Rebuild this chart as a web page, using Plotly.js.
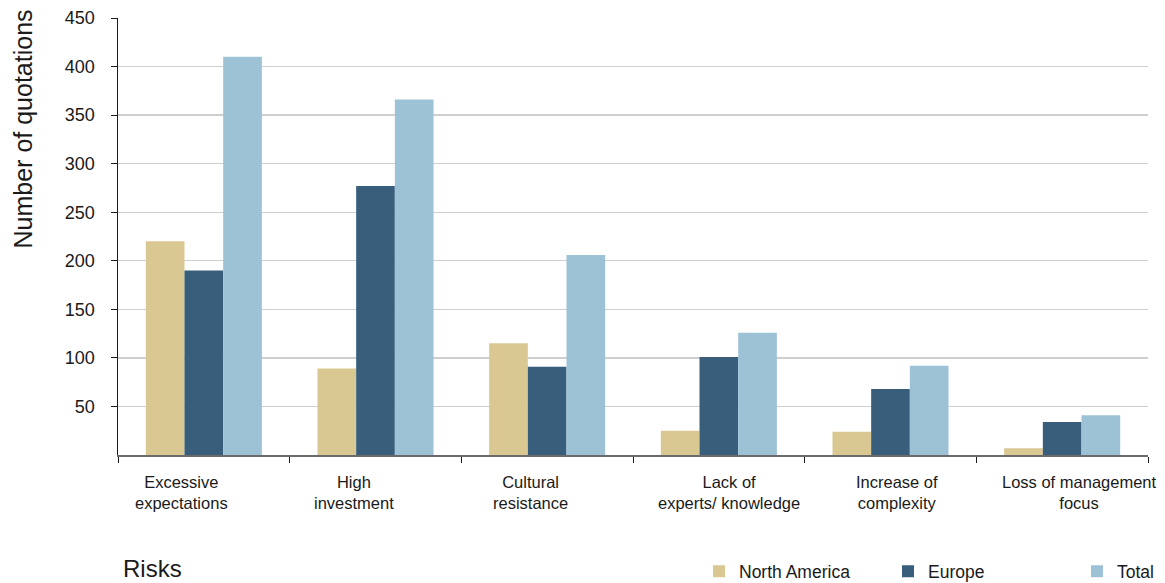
<!DOCTYPE html>
<html>
<head>
<meta charset="utf-8">
<script src="https://cdn.plot.ly/plotly-3.0.1.min.js"></script>
<style>
  html, body { margin: 0; padding: 0; background: #ffffff; }
  #chart { width: 1165px; height: 583px; }
</style>
</head>
<body>
<div id="chart"></div>
<script>
// Risk categories (two-line labels)
const categories = [
  "Excessive<br>expectations",
  "High<br>investment",
  "Cultural<br>resistance",
  "Lack of<br>experts/ knowledge",
  "Increase of<br>complexity",
  "Loss of management<br>focus"
];

// Number of quotations per region
const northAmerica = [220, 89, 115, 25, 24, 7];
const europe       = [190, 277, 91, 101, 68, 34];
const total        = [410, 366, 206, 126, 92, 41];

const yTicks = [50, 100, 150, 200, 250, 300, 350, 400, 450];

// horizontal nudge (px) of each category caption under the axis
const captionNudge = [-22, -22, -17, 10, 6, 17];

const FONT = "Liberation Sans, Arial, sans-serif";

const traces = [
  { name: "North America", y: northAmerica, color: "#dac893" },
  { name: "Europe",        y: europe,       color: "#395e7c" },
  { name: "Total",         y: total,        color: "#9dc2d6" }
].map(s => ({
  type: "bar",
  name: s.name,
  x: categories,
  y: s.y,
  marker: { color: s.color, line: { width: 0 } },
  hoverinfo: "skip"
}));

// category captions placed under each group
const captions = categories.map((c, i) => ({
  text: c,
  xref: "x", yref: "paper",
  x: c, y: 0,
  xanchor: "center", yanchor: "top",
  yshift: -16,
  xshift: captionNudge[i],
  showarrow: false,
  align: "center",
  font: { family: FONT, size: 16.5, color: "#1a1a1a" }
}));

const layout = {
  width: 1165,
  height: 583,
  margin: { l: 118, r: 17, t: 18, b: 128, pad: 0, autoexpand: false },
  paper_bgcolor: "#ffffff",
  plot_bgcolor: "#ffffff",
  font: { family: FONT, color: "#1a1a1a" },
  barmode: "group",
  bargap: 0.324,
  bargroupgap: 0,
  showlegend: true,
  legend: {
    orientation: "h",
    xref: "container",
    yref: "container",
    x: 0.6,
    y: 0.02,
    xanchor: "left",
    yanchor: "middle",
    entrywidth: 144,
    entrywidthmode: "pixels",
    font: { family: FONT, size: 17.5, color: "#1a1a1a" },
    bgcolor: "rgba(0,0,0,0)",
    traceorder: "normal"
  },
  xaxis: {
    type: "category",
    range: [-0.5, categories.length - 0.5],
    autorange: false,
    tickson: "boundaries",
    ticks: "outside",
    ticklen: 6,
    tickwidth: 1,
    tickcolor: "#1a1a1a",
    showline: true,
    linecolor: "#6b6b6b",
    linewidth: 2,
    showgrid: false,
    zeroline: false,
    showticklabels: false,
    automargin: false
  },
  yaxis: {
    range: [0, 450],
    autorange: false,
    tickvals: yTicks,
    ticktext: yTicks.map(String),
    ticks: "outside",
    ticklen: 6,
    tickwidth: 1,
    tickcolor: "#1a1a1a",
    showline: true,
    linecolor: "#1a1a1a",
    linewidth: 1.5,
    showgrid: true,
    gridcolor: "#cfcfcf",
    gridwidth: 1.3,
    zeroline: false,
    ticklabelstandoff: 12,
    tickfont: { family: FONT, size: 18, color: "#1a1a1a" },
    automargin: false
  },
  annotations: captions.concat([
    {
      text: "Number of quotations",
      textangle: -90,
      xref: "paper", yref: "paper",
      x: -0.0922, y: 0.745,
      xanchor: "center", yanchor: "middle",
      showarrow: false,
      font: { family: FONT, size: 25, color: "#1a1a1a" }
    },
    {
      text: "Risks",
      xref: "paper", yref: "paper",
      x: 0, y: -0.259,
      xanchor: "left", yanchor: "middle",
      xshift: 3,
      showarrow: false,
      font: { family: FONT, size: 24, color: "#1a1a1a" }
    }
  ])
};

Plotly.newPlot("chart", traces, layout, { displayModeBar: false, staticPlot: true });
</script>
</body>
</html>
